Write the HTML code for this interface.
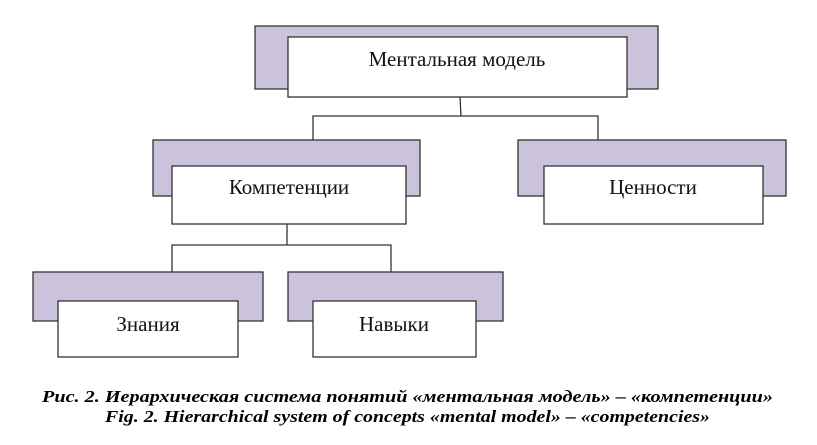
<!DOCTYPE html>
<html><head><meta charset="utf-8"><style>body{margin:0;background:#fff} svg text{font-family:"Liberation Serif","Times New Roman",serif}</style></head><body>
<svg width="817" height="440" xmlns="http://www.w3.org/2000/svg">
<g stroke="#333" stroke-width="1.3" fill="none">
<polyline points="460,97 461,116"/>
<polyline points="313,140 313,116 598,116 598,140"/>
<polyline points="287,224 287,245"/>
<polyline points="172,272 172,245 391,245 391,272"/>
</g>
<g stroke="#333" stroke-width="1.3">
<rect x="255" y="26" width="403" height="63" fill="#cbc2db"/>
<rect x="288" y="37" width="339" height="60" fill="#fff"/>
<rect x="153" y="140" width="267" height="56" fill="#cbc2db"/>
<rect x="172" y="166" width="234" height="58" fill="#fff"/>
<rect x="518" y="140" width="268" height="56" fill="#cbc2db"/>
<rect x="544" y="166" width="219" height="58" fill="#fff"/>
<rect x="33" y="272" width="230" height="49" fill="#cbc2db"/>
<rect x="58" y="301" width="180" height="56" fill="#fff"/>
<rect x="288" y="272" width="215" height="49" fill="#cbc2db"/>
<rect x="313" y="301" width="163" height="56" fill="#fff"/>
</g>
<g font-size="21" fill="#111" text-anchor="middle">
<text x="457" y="66">Ментальная модель</text>
<text x="289" y="194">Компетенции</text>
<text x="653" y="194">Ценности</text>
<text x="148" y="331">Знания</text>
<text x="394" y="331">Навыки</text>
</g>
<g font-size="17" font-weight="bold" font-style="italic" fill="#000">
<text x="42" y="402" textLength="731" lengthAdjust="spacingAndGlyphs">Рис. 2. Иерархическая система понятий «ментальная модель» – «компетенции»</text>
<text x="105" y="422" textLength="605" lengthAdjust="spacingAndGlyphs">Fig. 2. Hierarchical system of concepts «mental model» – «competencies»</text>
</g>
</svg>
</body></html>
